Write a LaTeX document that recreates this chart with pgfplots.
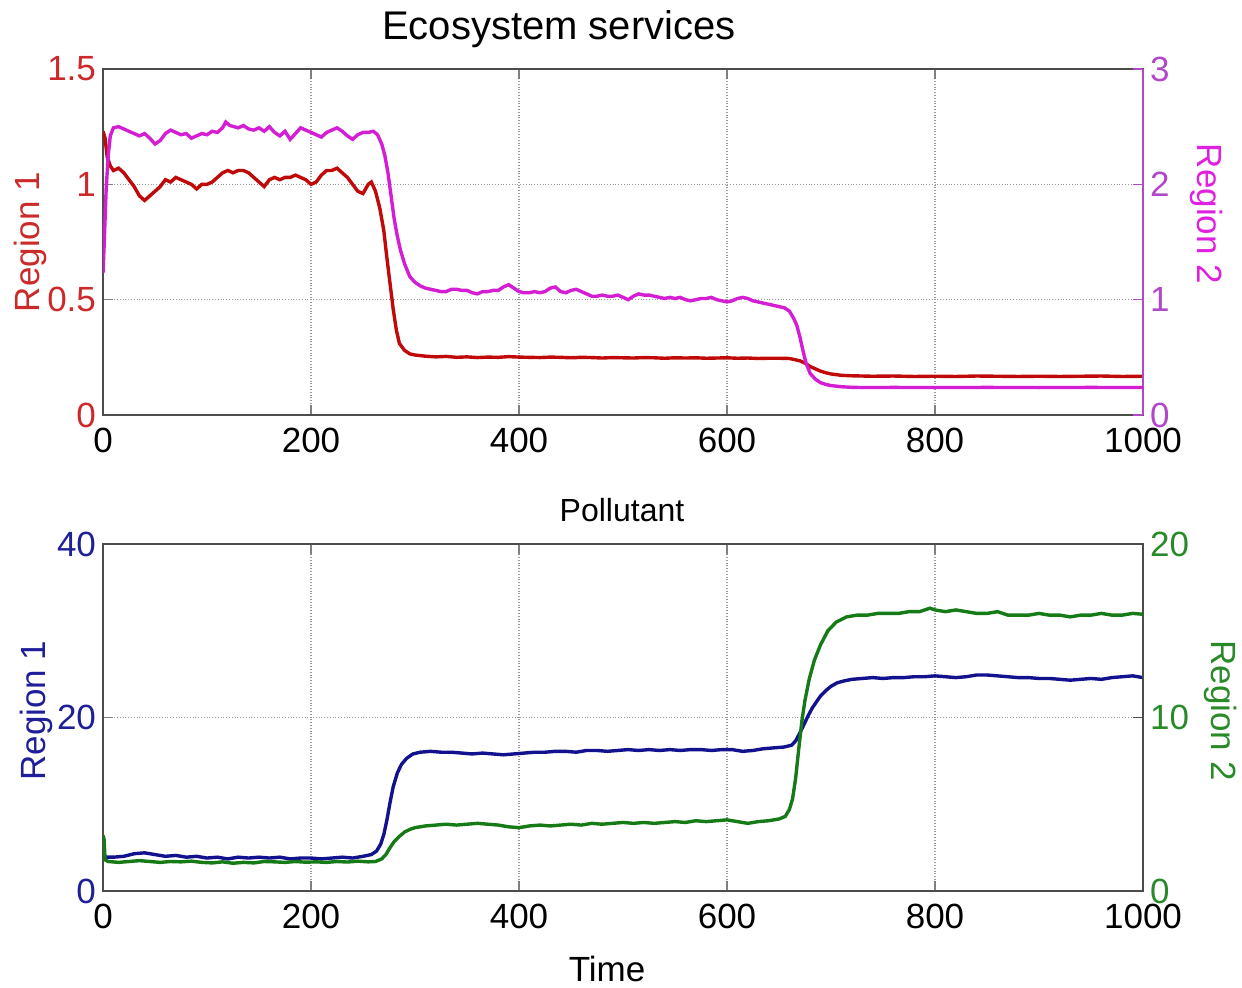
\documentclass[border=0pt]{standalone}
\usepackage{pgfplots}
\pgfplotsset{compat=1.18}
\usepackage{fontspec}
\setmainfont{Liberation Sans}
\definecolor{cred}{HTML}{C00A0A}
\definecolor{cmag}{HTML}{D41ED4}
\definecolor{cblue}{HTML}{12128F}
\definecolor{cgreen}{HTML}{167A16}
\definecolor{tred}{HTML}{CC2A2A}
\definecolor{tmag}{HTML}{B048C8}
\definecolor{lmag}{HTML}{E020E0}
\definecolor{tblue}{HTML}{1F1F99}
\definecolor{tgreen}{HTML}{2A8A2A}
\pgfplotsset{
  myaxis/.style={
    scale only axis, width=520pt,
    xmin=0, xmax=1000,
    tick align=inside, major tick length=5pt,
    tick style={line width=0.6pt},
    ticklabel style={font=\fontsize{17.5}{20}\selectfont},
    label style={font=\fontsize{17.5}{20}\selectfont},
    /pgf/number format/assume math mode=true,
    /pgf/number format/1000 sep={},
    axis line style={line width=0.6pt},
    clip=true,
  },
  leftaxis/.style={
    myaxis,
    xtick={0,200,400,600,800,1000},
    xtick pos=both, xticklabel pos=bottom,
    ytick pos=left,
    grid=major,
    grid style={densely dotted, gray!80, line width=0.7pt},
    axis line style={line width=0.6pt, gray!60!black},
    xticklabel style={black, yshift=-3pt},
  },
  rightaxis/.style={
    myaxis,
    axis x line=none,
    axis y line*=right,
  },
}
\begin{document}
\begin{tikzpicture}
\useasboundingbox (0,0) rectangle (621pt,493.5pt);
% ---------- top panel: left axis ----------
\begin{axis}[leftaxis, at={(51.5pt,286pt)}, anchor=south west, height=173pt,
  ymin=0, ymax=1.5, ytick={0,0.5,1,1.5},
  yticklabel style={tred},
  ylabel={Region 1}, ylabel style={tred, at={(axis description cs:-0.0702,0.5)}, rotate=0, anchor=center},
]
\addplot[cred, line width=1.7pt] coordinates {
(0,1.23)(2,1.20)(4,1.12)(7,1.08)(10,1.06)(15,1.07)(20,1.05)(25,1.02)(30,0.99)(35,0.95)
(40,0.93)(45,0.95)(50,0.97)(55,0.99)(60,1.02)(65,1.01)(70,1.03)(75,1.02)(80,1.01)(85,1.00)
(90,0.98)(95,1.00)(100,1.00)(105,1.01)(110,1.03)(115,1.05)(120,1.06)(125,1.05)(130,1.06)(135,1.06)
(140,1.05)(145,1.03)(150,1.01)(155,0.99)(160,1.02)(165,1.03)(170,1.02)(175,1.03)(180,1.03)(185,1.04)
(190,1.03)(195,1.02)(200,1.00)(205,1.01)(210,1.04)(215,1.06)(220,1.06)(225,1.07)(230,1.05)(235,1.03)
(240,1.00)(245,0.97)(250,0.96)(255,1.00)(258,1.01)(262,0.97)(266,0.90)(270,0.80)(273,0.68)(276,0.57)
(279,0.46)(282,0.37)(285,0.31)(290,0.28)(295,0.265)(300,0.26)(310,0.255)(320,0.252)(330,0.254)(340,0.250)
(350,0.252)(360,0.249)(370,0.251)(380,0.250)(390,0.253)(400,0.251)(410,0.250)(420,0.249)(430,0.251)(440,0.250)
(450,0.248)(460,0.250)(470,0.249)(480,0.247)(490,0.249)(500,0.248)(510,0.247)(520,0.249)(530,0.248)(540,0.246)
(550,0.248)(560,0.247)(570,0.248)(580,0.246)(590,0.247)(600,0.248)(610,0.246)(620,0.247)(630,0.245)(640,0.246)
(650,0.246)(660,0.245)(665,0.24)(670,0.235)(675,0.225)(680,0.21)(685,0.20)(690,0.19)(695,0.183)(700,0.178)
(710,0.172)(720,0.170)(740,0.168)(760,0.169)(780,0.167)(800,0.168)(820,0.167)(840,0.169)(860,0.168)(880,0.167)
(900,0.168)(920,0.167)(940,0.168)(960,0.169)(980,0.167)(1000,0.168)
};
\end{axis}
% ---------- top panel: right axis ----------
\begin{axis}[rightaxis, at={(51.5pt,286pt)}, anchor=south west, height=173pt,
  ymin=0, ymax=3, ytick={0,1,2,3},
  yticklabel style={tmag}, axis line style={line width=0.6pt, tmag}, tick style={tmag},
  ylabel={Region 2}, ylabel style={lmag, at={(axis description cs:1.0615,0.581)}, rotate=180, anchor=center},
]
\addplot[cmag, line width=1.7pt] coordinates {
(0,1.23)(1,1.45)(2,1.70)(3,1.95)(5,2.25)(7,2.42)(10,2.49)(15,2.50)(20,2.48)(25,2.46)
(30,2.44)(35,2.42)(40,2.44)(45,2.40)(50,2.35)(55,2.38)(60,2.44)(65,2.47)(70,2.45)(75,2.43)
(80,2.44)(85,2.40)(90,2.42)(95,2.44)(100,2.43)(105,2.46)(110,2.45)(115,2.49)(118,2.54)(122,2.51)
(126,2.50)(130,2.49)(135,2.51)(140,2.48)(145,2.47)(150,2.49)(155,2.46)(160,2.50)(165,2.45)(170,2.42)
(175,2.46)(180,2.39)(185,2.44)(190,2.49)(195,2.47)(200,2.45)(205,2.43)(210,2.41)(215,2.45)(220,2.47)
(225,2.49)(230,2.46)(235,2.42)(240,2.39)(245,2.43)(250,2.45)(255,2.45)(260,2.46)(264,2.43)(268,2.35)
(271,2.25)(274,2.10)(277,1.90)(280,1.70)(283,1.55)(286,1.43)(290,1.31)(295,1.20)(300,1.15)(305,1.12)
(310,1.10)(315,1.09)(320,1.08)(325,1.07)(330,1.07)(335,1.09)(340,1.09)(345,1.08)(350,1.08)(355,1.06)
(360,1.05)(365,1.07)(370,1.07)(375,1.08)(380,1.08)(385,1.11)(390,1.13)(395,1.10)(400,1.07)(405,1.06)
(410,1.06)(415,1.07)(420,1.06)(425,1.07)(430,1.10)(435,1.11)(440,1.07)(445,1.06)(450,1.08)(455,1.09)
(460,1.07)(465,1.05)(470,1.03)(475,1.03)(480,1.04)(485,1.03)(490,1.03)(495,1.04)(500,1.02)(505,1.00)
(510,1.03)(515,1.05)(520,1.04)(525,1.04)(530,1.03)(535,1.02)(540,1.01)(545,1.02)(550,1.01)(555,1.02)
(560,1.00)(565,0.99)(570,1.00)(575,1.01)(580,1.01)(585,1.02)(590,1.00)(595,0.99)(600,0.98)(605,0.99)
(610,1.01)(615,1.02)(620,1.01)(625,0.99)(630,0.98)(635,0.97)(640,0.96)(645,0.95)(650,0.94)(655,0.93)
(660,0.90)(664,0.84)(667,0.78)(670,0.68)(673,0.56)(676,0.45)(680,0.36)(685,0.31)(690,0.28)(695,0.265)
(700,0.255)(710,0.245)(720,0.240)(730,0.238)(760,0.239)(800,0.238)(850,0.239)(900,0.238)(950,0.239)(1000,0.238)
};
\end{axis}
% ---------- bottom panel: left axis ----------
\begin{axis}[leftaxis, at={(51.5pt,48pt)}, anchor=south west, height=173.5pt,
  ymin=0, ymax=40, ytick={0,20,40},
  yticklabel style={tblue},
  ylabel={Region 1}, ylabel style={tblue, at={(axis description cs:-0.064,0.52)}, rotate=0, anchor=center},
]
\addplot[cblue, line width=1.7pt] coordinates {
(0,4.6)(2,3.9)(10,3.9)(20,4.0)(30,4.3)(40,4.4)(50,4.2)(60,4.0)(70,4.1)(80,3.9)
(90,4.0)(100,3.8)(110,3.9)(120,3.7)(130,3.9)(140,3.8)(150,3.9)(160,3.8)(170,3.9)(180,3.7)
(190,3.8)(200,3.8)(210,3.7)(220,3.8)(230,3.9)(240,3.8)(250,4.0)(258,4.2)(263,4.6)(267,5.4)
(270,6.5)(273,8.2)(276,10.2)(279,12.0)(283,13.6)(287,14.6)(292,15.3)(298,15.8)(305,16.0)(315,16.1)
(325,16.0)(335,16.0)(345,15.9)(355,15.8)(365,15.9)(375,15.8)(385,15.7)(395,15.8)(405,15.9)(415,16.0)
(425,16.0)(435,16.1)(445,16.1)(455,16.0)(465,16.2)(475,16.2)(485,16.1)(495,16.2)(505,16.3)(515,16.2)
(525,16.3)(535,16.2)(545,16.3)(555,16.2)(565,16.3)(575,16.3)(585,16.2)(595,16.3)(605,16.3)(615,16.1)
(625,16.2)(635,16.4)(645,16.5)(655,16.6)(662,16.8)(666,17.3)(670,18.2)(674,19.2)(678,20.2)(682,21.1)
(686,21.8)(690,22.5)(695,23.1)(700,23.6)(706,24.0)(712,24.2)(720,24.4)(730,24.5)(740,24.6)(750,24.5)
(760,24.6)(770,24.6)(780,24.7)(790,24.7)(800,24.8)(810,24.7)(820,24.6)(830,24.7)(840,24.9)(850,24.9)
(860,24.8)(870,24.7)(880,24.6)(890,24.6)(900,24.5)(910,24.5)(920,24.4)(930,24.3)(940,24.4)(950,24.5)
(960,24.4)(970,24.6)(980,24.7)(990,24.8)(1000,24.6)
};
\end{axis}
% ---------- bottom panel: right axis ----------
\begin{axis}[rightaxis, at={(51.5pt,48pt)}, anchor=south west, height=173.5pt,
  ymin=0, ymax=20, ytick={0,10,20},
  yticklabel style={tgreen}, axis line style={line width=0.6pt, gray!60!black}, tick style={gray!60!black},
  ylabel={Region 2}, ylabel style={tgreen, at={(axis description cs:1.075,0.52)}, rotate=180, anchor=center},
]
\addplot[cgreen, line width=1.7pt] coordinates {
(0,3.2)(1,3.0)(2,1.8)(5,1.7)(15,1.65)(25,1.7)(35,1.75)(45,1.7)(55,1.65)(65,1.7)
(75,1.68)(85,1.72)(95,1.65)(105,1.62)(115,1.68)(125,1.6)(135,1.65)(145,1.62)(155,1.7)(165,1.68)
(175,1.65)(185,1.7)(195,1.66)(205,1.68)(215,1.65)(225,1.7)(235,1.67)(245,1.72)(255,1.68)(262,1.70)
(268,1.85)(272,2.1)(276,2.5)(280,2.85)(285,3.15)(290,3.4)(295,3.55)(300,3.65)(310,3.75)(320,3.8)
(330,3.85)(340,3.8)(350,3.85)(360,3.9)(370,3.85)(380,3.8)(390,3.7)(400,3.65)(410,3.75)(420,3.8)
(430,3.75)(440,3.8)(450,3.85)(460,3.8)(470,3.9)(480,3.85)(490,3.9)(500,3.95)(510,3.9)(520,3.95)
(530,3.9)(540,3.95)(550,4.0)(560,3.95)(570,4.05)(580,4.0)(590,4.05)(600,4.1)(610,4.0)(620,3.9)
(630,4.0)(640,4.05)(650,4.15)(656,4.3)(660,4.7)(663,5.3)(666,6.5)(669,8.2)(672,9.8)(675,11.0)
(679,12.2)(684,13.3)(690,14.2)(697,15.0)(705,15.5)(715,15.8)(725,15.9)(735,15.9)(745,16.0)(755,16.0)
(765,16.0)(775,16.1)(785,16.1)(795,16.3)(800,16.2)(810,16.1)(820,16.2)(830,16.1)(840,16.0)(850,16.0)
(860,16.1)(870,15.9)(880,15.9)(890,15.9)(900,16.0)(910,15.9)(920,15.9)(930,15.8)(940,15.9)(950,15.9)
(960,16.0)(970,15.9)(980,15.9)(990,16.0)(1000,15.95)
};
\end{axis}
% ---------- titles ----------
\node[anchor=base, font=\fontsize{20}{24}\selectfont] at (279.5pt,473.5pt) {Ecosystem services};
\node[anchor=base, font=\fontsize{16}{19}\selectfont] at (311pt,233pt) {Pollutant};
\node[anchor=base, font=\fontsize{17.5}{21}\selectfont, inner sep=0pt] at (303.5pt,3pt) {Time};
\end{tikzpicture}
\end{document}
